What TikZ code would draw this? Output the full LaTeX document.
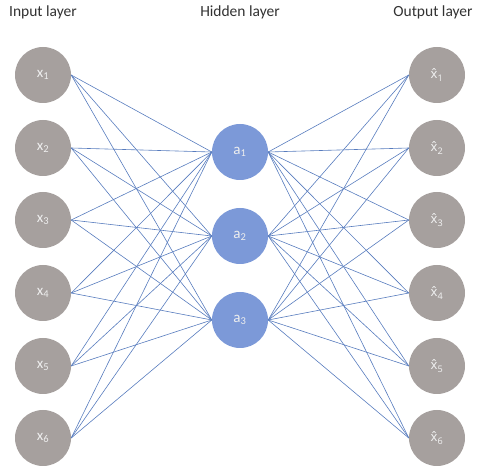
\documentclass[tikz,border=0pt]{standalone}
\usepackage{fontspec}
\setmainfont{Carlito}
\newfontfamily\hatfont{Noto Sans}
\definecolor{nodegray}{RGB}{166,160,158}
\definecolor{nodeblue}{RGB}{124,153,216}
\definecolor{edgeblue}{RGB}{88,124,190}
\definecolor{titlegray}{RGB}{50,50,50}
\definecolor{labelwhite}{RGB}{238,238,238}
\begin{document}
\begin{tikzpicture}[x=1pt,y=-1pt,
  neuron/.style={circle,minimum size=56pt,inner sep=0pt,draw=none,
    text=labelwhite,font=\fontsize{15}{17}\selectfont},
  inneuron/.style={neuron,fill=nodegray},
  outneuron/.style={inneuron,font=\hatfont\fontsize{13}{15}\selectfont},
  hidneuron/.style={neuron,fill=nodeblue},
  title/.style={font=\fontsize{15.5}{18}\selectfont,text=titlegray,inner sep=0pt},
  edge/.style={draw=edgeblue,line width=0.6pt}]
\useasboundingbox (0,0) rectangle (477,470);
\node[title] (tin) at (43,12) {Input layer};
\node[title] (thid) at (240,12) {Hidden layer};
\node[title] (tout) at (433,12) {Output layer};
\foreach \i/\y in {1/75,2/148,3/220,4/293,5/366,6/438}{
  \node[inneuron] (x\i) at (43,\y) {x\textsubscript{\i}};
  \node[outneuron] (o\i) at (437,\y) {x̂\textsubscript{\i}};
}
\foreach \j/\y in {1/152,2/236,3/320}{
  \node[hidneuron] (a\j) at (240,\y) {a\textsubscript{\j}};
}
\foreach \i in {1,...,6}{
  \foreach \j in {1,2,3}{
    \draw[edge] (x\i.east) -- (a\j.west);
    \draw[edge] (a\j.east) -- (o\i.west);
  }
}
\end{tikzpicture}
\end{document}
